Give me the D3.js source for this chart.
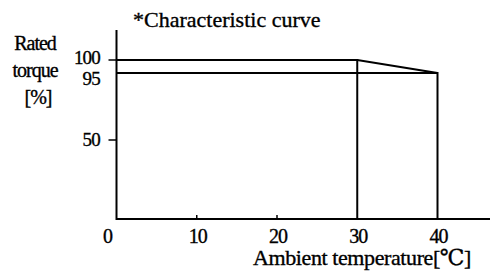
<!DOCTYPE html>
<html>
<head>
<meta charset="utf-8">
<script src="https://cdn.jsdelivr.net/npm/d3@7"></script>
<style>
  body { margin: 0; background: #fff; }
</style>
</head>
<body>
<div class="diagram"></div>
<script>
// curve: rated torque [%] vs ambient temperature
const temps = [0, 30, 40];
const torque = [100, 100, 95];
const limitTorque = 95;
const xTicks = [0, 10, 20, 30, 40];
const yTicks = [50, 95, 100];
const yTickMarks = [50, 100];

const W = 490, H = 277;
const FONT = "'Times New Roman', 'Liberation Serif', 'DejaVu Serif', serif";
const svg = d3.select(".diagram").append("svg")
  .attr("width", W).attr("height", H)
  .style("font-family", FONT);

const x = d3.scaleLinear().domain([0, 40]).range([116.5, 437.5]);
// drawing is not to scale, so the y scale is piecewise
const y = d3.scaleLinear().domain([0, 50, 95, 100]).range([219, 140, 73, 60]);

const stroke = "#000";

// axes
svg.append("line").attr("x1", x(0)).attr("x2", W).attr("y1", y(0)).attr("y2", y(0))
  .attr("stroke", stroke).attr("stroke-width", 2);
svg.append("line").attr("x1", x(0)).attr("x2", x(0)).attr("y1", 30).attr("y2", y(0) + 1)
  .attr("stroke", stroke).attr("stroke-width", 2);

// small x ticks
svg.selectAll(".xt").data([10, 20]).enter().append("line")
  .attr("x1", d => x(d)).attr("x2", d => x(d))
  .attr("y1", y(0)).attr("y2", y(0) - 4)
  .attr("stroke", stroke).attr("stroke-width", 1.5);

// y ticks (leftward)
svg.selectAll(".yt").data(yTickMarks).enter().append("line")
  .attr("x1", x(0) - 8).attr("x2", x(0))
  .attr("y1", d => y(d)).attr("y2", d => y(d))
  .attr("stroke", stroke).attr("stroke-width", 1.5);

// curve
const line = d3.line().x(d => x(d[0])).y(d => y(d[1]));
svg.append("path").datum(temps.map((t, i) => [t, torque[i]]))
  .attr("d", line).attr("fill", "none").attr("stroke", stroke).attr("stroke-width", 2);
svg.append("path").datum([[0, limitTorque], [40, limitTorque]])
  .attr("d", line).attr("fill", "none").attr("stroke", stroke).attr("stroke-width", 2);

// verticals at 30 and 40
svg.selectAll(".vl").data(temps.slice(1)).enter().append("line")
  .attr("x1", (d) => x(d)).attr("x2", (d) => x(d))
  .attr("y1", (d, i) => y(torque[i + 1]) - 1).attr("y2", y(0))
  .attr("stroke", stroke).attr("stroke-width", 2);

function txt(sel) {
  return sel.attr("fill", "#000").attr("stroke", "#000").attr("stroke-width", 0.35);
}

// x tick labels
txt(svg.selectAll(".xl").data(xTicks).enter().append("text"))
  .attr("x", d => d === 0 ? x(d) - 9 : x(d) + 1)
  .attr("y", 243)
  .attr("text-anchor", "middle").attr("font-size", 20)
  .attr("letter-spacing", -1)
  .text(d => d);

// y tick labels
txt(svg.selectAll(".yl").data(yTicks).enter().append("text"))
  .attr("x", 100)
  .attr("y", d => d === 95 ? y(d) + 12 : d === 100 ? y(d) + 4 : y(d) + 6)
  .attr("text-anchor", "end").attr("font-size", 19)
  .attr("letter-spacing", -0.8)
  .text(d => d);

// y title
const yTitle = [["Rated", 35, 50], ["torque", 35, 77], ["[%]", 38, 104]];
txt(svg.selectAll(".ytl").data(yTitle).enter().append("text"))
  .attr("x", d => d[1]).attr("y", d => d[2])
  .attr("text-anchor", "middle").attr("font-size", 20)
  .attr("letter-spacing", -1)
  .text(d => d[0]);

txt(svg.append("text")).attr("x", 133).attr("y", 27).attr("font-size", 22)
  .attr("letter-spacing", 0)
  .text("*Characteristic curve");

txt(svg.append("text")).attr("x", 471).attr("y", 265).attr("text-anchor", "end")
  .attr("font-size", 22).attr("letter-spacing", -0.4)
  .text("Ambient temperature[℃]");
</script>
</body>
</html>
